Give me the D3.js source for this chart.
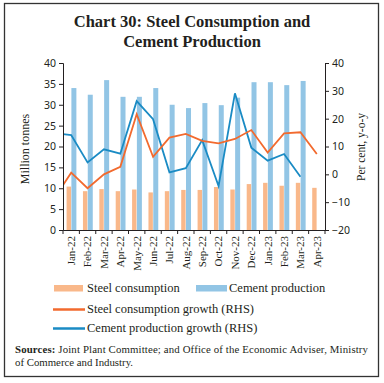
<!DOCTYPE html>
<html>
<head>
<meta charset="utf-8">
<script src="https://cdn.jsdelivr.net/npm/d3@7"></script>
<style>
  html, body { margin: 0; padding: 0; background: #fff; }
  svg { display: block; }
</style>
</head>
<body>
<svg id="chart" width="384" height="383"></svg>
<script>
const months = ["Jan-22","Feb-22","Mar-22","Apr-22","May-22","Jun-22","Jul-22","Aug-22","Sep-22","Oct-22","Nov-22","Dec-22","Jan-23","Feb-23","Mar-23","Apr-23"];
const steelConsumption = [10.4, 9.3, 9.8, 9.3, 9.7, 9.0, 9.3, 9.6, 9.6, 10.3, 9.7, 11.0, 11.3, 10.6, 11.3, 10.1];
const cementProduction = [34.0, 32.4, 35.9, 31.9, 31.9, 34.0, 30.0, 29.2, 30.4, 29.9, 31.7, 35.4, 35.4, 34.7, 35.7, null];
const steelGrowth = [0.6, -5.0, 0.0, 2.7, 21.6, 6.3, 13.2, 14.5, 12.0, 11.1, 12.7, 15.9, 7.8, 14.7, 15.1, 7.3];
const cementGrowth = [14.1, 4.3, 9.0, 7.4, 26.3, 19.8, 0.7, 2.2, 12.3, -4.2, 29.1, 9.6, 4.9, 7.3, -0.9, null];
// previous month (Dec-21) values, only partly visible at the left edge
const steelGrowthPrev = -8.3;
const cementGrowthPrev = 14.8;
const leftTicks = [0, 5, 10, 15, 20, 25, 30, 35, 40];
const rightTicks = [-20, -10, 0, 10, 20, 30, 40];

const svg = d3.select("#chart");
const serif = "'Liberation Serif', 'DejaVu Serif', serif";
const sans = "'Noto Sans', 'Open Sans', sans-serif";

const C = { steelBar: "#F9B88A", cementBar: "#92C5E5", steelLine: "#F26A2E", cementLine: "#1A8BC4", ink: "#231F20" };

// frame
svg.append("rect").attr("x", 4.5).attr("y", 3.5).attr("width", 374).attr("height", 373)
  .attr("fill", "none").attr("stroke", "#333").attr("stroke-width", 1.3);

// title
const title = svg.append("text").attr("text-anchor", "middle").attr("font-family", serif)
  .attr("font-weight", "bold").attr("font-size", 16.5).attr("fill", C.ink);
title.append("tspan").attr("x", 192).attr("y", 27).text("Chart 30: Steel Consumption and");
title.append("tspan").attr("x", 192).attr("y", 47).text("Cement Production");

const L = 63, R = 325, T = 63, B = 230;
const x = d3.scaleBand().domain(months).range([L, R]).paddingInner(0).paddingOuter(0);
const yL = d3.scaleLinear().domain([0, 40]).range([B, T]);
const yR = d3.scaleLinear().domain([-20, 40]).range([B, T]);
const bw = x.bandwidth();
const cx = m => x(m) + bw / 2;

// clip for lines
svg.append("defs").append("clipPath").attr("id", "plotclip")
  .append("rect").attr("x", L).attr("y", 0).attr("width", R - L).attr("height", 383);

// bars
const g = svg.append("g");
g.selectAll(".steel").data(months).join("rect")
  .attr("x", m => cx(m) - 4.6).attr("width", 4.4)
  .attr("y", (m, i) => yL(steelConsumption[i]))
  .attr("height", (m, i) => B - yL(steelConsumption[i]))
  .attr("fill", C.steelBar);
g.selectAll(".cement").data(months.filter((m, i) => cementProduction[i] != null)).join("rect")
  .attr("x", m => cx(m) + 0.2).attr("width", 5)
  .attr("y", (m, i) => yL(cementProduction[i]))
  .attr("height", (m, i) => B - yL(cementProduction[i]))
  .attr("fill", C.cementBar);

// lines
function linePts(vals, prev) {
  const pts = [[cx(months[0]) - bw, yR(prev)]];
  vals.forEach((v, i) => { if (v != null) pts.push([cx(months[i]), yR(v)]); });
  return pts;
}
const line = d3.line();
const lg = svg.append("g").attr("clip-path", "url(#plotclip)");
lg.append("path").attr("d", line(linePts(cementGrowth, cementGrowthPrev)))
  .attr("fill", "none").attr("stroke", C.cementLine).attr("stroke-width", 1.8).attr("stroke-linejoin", "miter");
lg.append("path").attr("d", line(linePts(steelGrowth, steelGrowthPrev)))
  .attr("fill", "none").attr("stroke", C.steelLine).attr("stroke-width", 1.8).attr("stroke-linejoin", "miter");

// axes
const axL = svg.append("g").attr("transform", `translate(${L},0)`)
  .call(d3.axisLeft(yL).tickValues(leftTicks).tickSize(4).tickPadding(3));
const axR = svg.append("g").attr("transform", `translate(${R},0)`)
  .call(d3.axisRight(yR).tickValues(rightTicks).tickSize(4).tickPadding(3));
const axB = svg.append("g").attr("transform", `translate(0,${B})`)
  .call(d3.axisBottom(x).tickSize(4).tickSizeOuter(0));
// tick marks at band boundaries on the bottom axis
axB.selectAll(".tick line").remove();
axB.selectAll(".bnd").data(d3.range(months.length + 1)).join("line")
  .attr("x1", i => L + i * bw).attr("x2", i => L + i * bw).attr("y1", 0).attr("y2", 4)
  .attr("stroke", C.ink);

[axL, axR, axB].forEach(a => {
  a.select(".domain").attr("stroke", C.ink).attr("stroke-width", 1);
  a.selectAll(".tick line").attr("stroke", C.ink);
});
[axL, axR].forEach(a => a.selectAll(".tick text").attr("font-family", sans).attr("font-size", 10.5).attr("fill", C.ink));
axB.selectAll(".tick text")
  .attr("font-family", serif).attr("font-size", 11).attr("fill", C.ink)
  .attr("transform", "rotate(-90)").attr("text-anchor", "end")
  .attr("x", -6).attr("y", 0).attr("dy", "0.35em");

// axis titles
svg.append("text").attr("transform", "translate(29,149) rotate(-90)").attr("text-anchor", "middle")
  .attr("font-family", serif).attr("font-size", 12).attr("fill", C.ink).text("Million tonnes");
svg.append("text").attr("transform", "translate(365,147) rotate(-90)").attr("text-anchor", "middle")
  .attr("font-family", serif).attr("font-size", 11.5).attr("fill", C.ink).text("Per cent, y-o-y");

// legend
const leg = svg.append("g").attr("font-family", serif).attr("font-size", 12.5).attr("fill", C.ink);
leg.append("rect").attr("x", 54).attr("y", 285).attr("width", 29).attr("height", 6.5).attr("fill", C.steelBar);
leg.append("text").attr("x", 87).attr("y", 292).text("Steel consumption");
leg.append("rect").attr("x", 196).attr("y", 285).attr("width", 31).attr("height", 6.5).attr("fill", C.cementBar);
leg.append("text").attr("x", 229).attr("y", 292).text("Cement production");
leg.append("line").attr("x1", 53).attr("x2", 85).attr("y1", 309.5).attr("y2", 309.5).attr("stroke", C.steelLine).attr("stroke-width", 2.5);
leg.append("text").attr("x", 87).attr("y", 313).text("Steel consumption growth (RHS)");
leg.append("line").attr("x1", 53).attr("x2", 85).attr("y1", 328.5).attr("y2", 328.5).attr("stroke", C.cementLine).attr("stroke-width", 2.5);
leg.append("text").attr("x", 87).attr("y", 332).text("Cement production growth (RHS)");

// sources
const src1 = svg.append("text").attr("font-family", serif).attr("font-size", 10.8).attr("fill", C.ink)
  .attr("x", 15).attr("y", 353).attr("textLength", 353).attr("lengthAdjust", "spacing");
src1.append("tspan").attr("font-weight", "bold").text("Sources:");
src1.append("tspan").text(" Joint Plant Committee; and Office of the Economic Adviser, Ministry");
svg.append("text").attr("font-family", serif).attr("font-size", 10.8).attr("fill", C.ink)
  .attr("x", 15).attr("y", 366).text("of Commerce and Industry.");
</script>
</body>
</html>
